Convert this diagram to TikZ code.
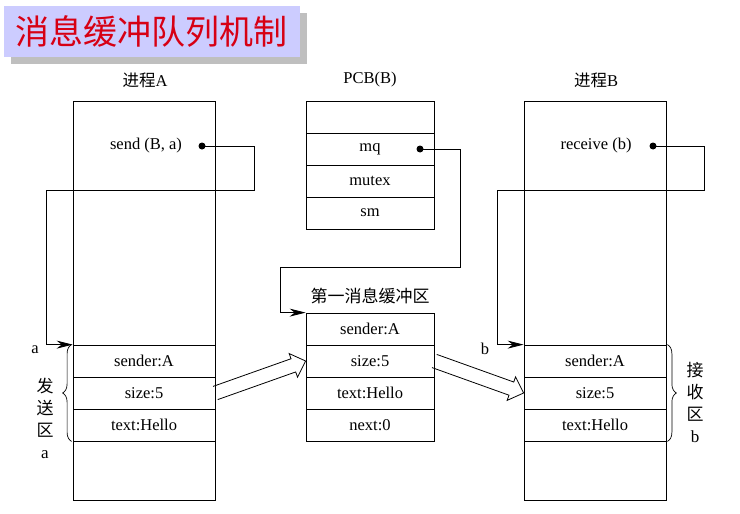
\documentclass[tikz,border=0pt]{standalone}
\usepackage{fontspec}
\setmainfont{Liberation Serif}
\newfontfamily\cjk{Noto Sans CJK SC}
\usetikzlibrary{positioning}
\usetikzlibrary{calc,shadows,decorations.pathreplacing}
\usetikzlibrary {arrows.meta}
\definecolor{titlered}{RGB}{215,0,20}
\definecolor{titlebg}{RGB}{204,204,255}
\tikzset{titlebox/.style={rectangle,fill=titlebg,text=titlered,
inner sep=0pt,minimum height=51pt, minimum width=296pt,font=\cjk\fontsize{34}{40}\selectfont,
drop shadow={shadow xshift=7pt,shadow yshift=-7pt,fill=black!25,opacity=1}}}
\tikzset{procbox/.style={rectangle,draw=black,
inner sep=0pt,minimum height=399pt, minimum width=142pt}}
\tikzset{cell/.style={rectangle,draw=black,
inner sep=0pt,minimum height=32pt, minimum width=142pt}}
\tikzset{pcbcell/.style={cell,minimum width=128pt}}
\tikzset{ptrdot/.style={circle,fill=black,inner sep=0pt,minimum size=7pt}}
\tikzset{cjktext/.style={font=\cjk\fontsize{17}{22}\selectfont,align=center}}
\tikzset{zonebrace/.style={decorate,decoration={brace,amplitude=9pt},line width=0.7pt}}

\begin{document}
\begin{tikzpicture}[x=1pt,y=-1pt,line width=0.8pt,font=\fontsize{16.5}{20}\selectfont]
        \useasboundingbox (0,0) rectangle (740,514);

        \node[titlebox] (title) at (152,31.5) {消息缓冲队列机制};

        % process A
        \node (nameA) at (145,80) {{\cjk 进程}A};
        \node[procbox] (procA) at (144,300.5) {};
        \node (sendA) at (146,146) {send (B, a)};
        \node[ptrdot] (sendAdot) at (202,146) {};
        \node[cell] (Asender) at (144,361) {sender:A};
        \node[cell] (Asize) [below=-0.8pt of Asender] {size:5};
        \node[cell] (Atext) [below=-0.8pt of Asize] {text:Hello};

        % PCB(B)
        \node (namePCB) at (370,80) {PCB(B)};
        \node[pcbcell] (pcbtop) at (370,117) {};
        \node[pcbcell] (pcbmq) [below=-0.8pt of pcbtop] {mq};
        \node[pcbcell] (pcbmutex) [below=-0.8pt of pcbmq] {mutex};
        \node[pcbcell] (pcbsm) [below=-0.8pt of pcbmutex] {sm};
        \node[ptrdot] (mqdot) at (420,149) {};

        % first buffer
        \node[cjktext] (bufname) at (370,296) {第一消息缓冲区};
        \node[pcbcell] (bufsender) at (370,329) {sender:A};
        \node[pcbcell] (bufsize) [below=-0.8pt of bufsender] {size:5};
        \node[pcbcell] (buftext) [below=-0.8pt of bufsize] {text:Hello};
        \node[pcbcell] (bufnext) [below=-0.8pt of buftext] {next:0};

        % process B
        \node (nameB) at (596,80) {{\cjk 进程}B};
        \node[procbox] (procB) at (595,300.5) {};
        \node (recvB) at (596,146) {receive (b)};
        \node[ptrdot] (recvBdot) at (653,146) {};
        \node[cell] (Bsender) at (595,361) {sender:A};
        \node[cell] (Bsize) [below=-0.8pt of Bsender] {size:5};
        \node[cell] (Btext) [below=-0.8pt of Bsize] {text:Hello};

        % pointers
        \draw [-{Stealth[length=16pt,width=8pt]}] (sendAdot.center) -| (254,190) -| ([xshift=-26pt]Asender.north west) -- (Asender.north west);
        \draw [-{Stealth[length=16pt,width=8pt]}] (mqdot.center) -| (460,267) -| ([xshift=-25pt]bufsender.north west) -- (bufsender.north west);
        \draw [-{Stealth[length=16pt,width=8pt]}] (recvBdot.center) -| (704,190) -| ([xshift=-26pt]Bsender.north west) -- (Bsender.north west);
        \node (ptrA) at (35,350) {a};
        \node (ptrB) at (485,349) {b};

        % send and receive zones
        \draw[zonebrace] ([xshift=-1pt]Atext.south west) -- ([xshift=-1pt]Asender.north west);
        \draw[zonebrace] ([xshift=1pt]Bsender.north east) -- ([xshift=1pt]Btext.south east);
        \node[cjktext] (sendzone) at (45,418) {发\\送\\区\\{\rmfamily a}};
        \node[cjktext] (recvzone) at (695,402.5) {接\\收\\区\\{\rmfamily b}};

        % copying the message
        \foreach \src/\dst in {Asize.east/bufsize.west, bufsize.east/Bsize.west} {
            \coordinate (headbase) at ($(\dst)!13pt!(\src)$);
            \draw ($(\src)!7pt!90:(\dst)$) -- ($(headbase)!7pt!90:(\dst)$) -- ($(headbase)!12.5pt!90:(\dst)$) -- (\dst)
                -- ($(headbase)!12.5pt!-90:(\dst)$) -- ($(headbase)!7pt!-90:(\dst)$) -- ($(\src)!7pt!-90:(\dst)$);
        }

    \end{tikzpicture}
\end{document}
